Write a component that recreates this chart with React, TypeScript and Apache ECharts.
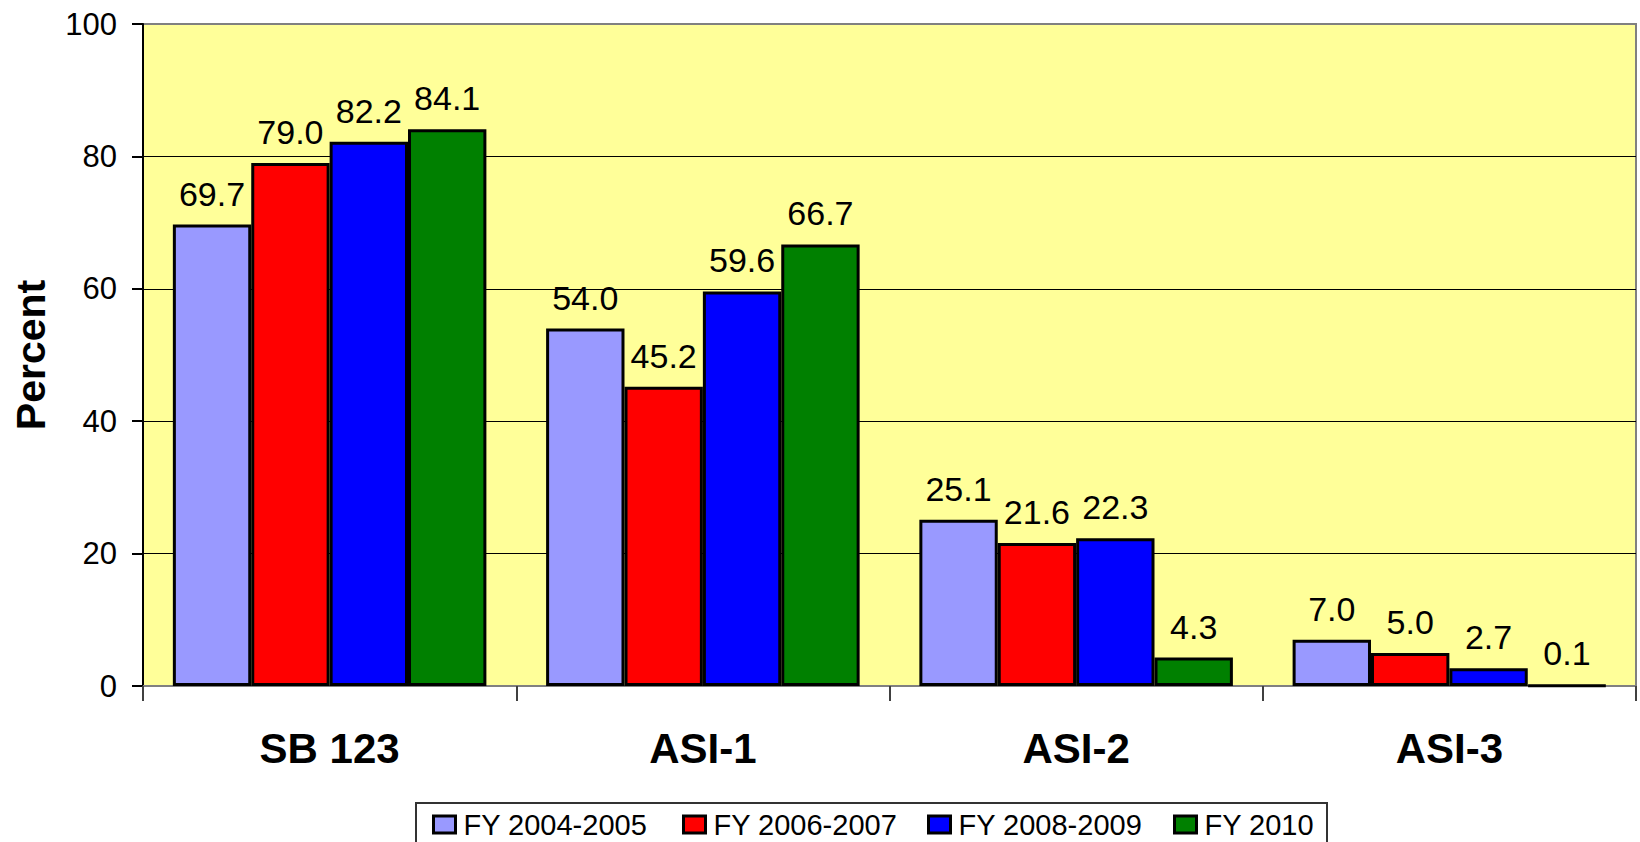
import React, { useEffect, useRef } from "react";
import * as echarts from "echarts";

const categories = ["SB 123", "ASI-1", "ASI-2", "ASI-3"];
const seriesNames = ["FY 2004-2005", "FY 2006-2007", "FY 2008-2009", "FY 2010"];
const fy0405 = [69.7, 54.0, 25.1, 7.0];
const fy0607 = [79.0, 45.2, 21.6, 5.0];
const fy0809 = [82.2, 59.6, 22.3, 2.7];
const fy2010 = [84.1, 66.7, 4.3, 0.1];
const seriesValues = [fy0405, fy0607, fy0809, fy2010];
const seriesColors = ["#9999FF", "#FF0000", "#0000FF", "#008000"];
const yTicks = [0, 20, 40, 60, 80, 100];

const FONT = "'Liberation Sans', Arial, sans-serif";

export default function App() {
  const ref = useRef<HTMLDivElement>(null);
  useEffect(() => {
    if (!ref.current) return;
    const chart = echarts.init(ref.current, undefined, { renderer: "svg" });
    const legendLefts = [432, 682, 927, 1173];
    const option: any = {
      animation: false,
      backgroundColor: "#ffffff",
      textStyle: { fontFamily: FONT },
      grid: {
        left: 143,
        right: 4,
        top: 24,
        bottom: 156,
        containLabel: false,
        outerBoundsMode: "none",
        show: true,
        backgroundColor: "#FFFF99",
        borderColor: "#808080",
        borderWidth: 2,
      },
      graphic: [
        {
          type: "rect",
          shape: { x: 416, y: 803, width: 911, height: 60 },
          style: { fill: "#ffffff", stroke: "#333333", lineWidth: 2 },
          z: 0,
        },
      ],
      legend: seriesNames.map((n, i) => ({
        data: [n],
        left: legendLefts[i],
        top: 810,
        padding: 0,
        itemWidth: 22,
        itemHeight: 17,
        icon: "rect",
        itemStyle: { borderColor: "#000", borderWidth: 3 },
        textStyle: {
          fontFamily: FONT,
          fontSize: 29,
          color: "#000",
          padding: [0, 0, 0, 3],
        },
        selectedMode: false,
        z: 5,
      })),
      xAxis: {
        type: "category",
        data: categories,
        axisLine: { show: true, lineStyle: { color: "#808080", width: 2 } },
        axisTick: {
          show: true,
          alignWithLabel: false,
          length: 15,
          lineStyle: { color: "#404040", width: 2 },
        },
        axisLabel: {
          fontFamily: FONT,
          fontSize: 42,
          fontWeight: "bold",
          color: "#000",
          margin: 41,
        },
        splitLine: { show: false },
      },
      yAxis: {
        type: "value",
        min: yTicks[0],
        max: yTicks[yTicks.length - 1],
        interval: 20,
        name: "Percent",
        nameLocation: "middle",
        nameRotate: 90,
        nameGap: 92,
        nameMoveOverlap: false,
        nameTextStyle: {
          fontFamily: FONT,
          fontSize: 41,
          fontWeight: "bold",
          color: "#000",
        },
        axisLine: { show: true, lineStyle: { color: "#000", width: 2 } },
        axisTick: {
          show: true,
          inside: false,
          length: 11,
          lineStyle: { color: "#000", width: 2 },
        },
        axisLabel: {
          fontFamily: FONT,
          fontSize: 31,
          color: "#000",
          margin: 26,
        },
        splitLine: {
          show: true,
          lineStyle: {
            color: ["#000", "#000", "#000", "#000", "#000", "#808080"],
            width: 1,
          },
        },
      },
      series: seriesNames.map((n, i) => ({
        type: "bar",
        name: n,
        data: seriesValues[i],
        barGap: "0%",
        barCategoryGap: "16%",
        itemStyle: {
          color: seriesColors[i],
          borderColor: "#000",
          borderWidth: 3,
        },
        label: {
          show: true,
          position: "top",
          distance: 14,
          fontFamily: FONT,
          fontSize: 34,
          color: "#000",
          formatter: (p: any) => Number(p.value).toFixed(1),
        },
        z: 3,
      })),
    };
    chart.setOption(option);
    return () => chart.dispose();
  }, []);
  return (
    <div
      ref={ref}
      style={{ position: "fixed", left: 0, top: 0, width: 1640, height: 842 }}
    />
  );
}
